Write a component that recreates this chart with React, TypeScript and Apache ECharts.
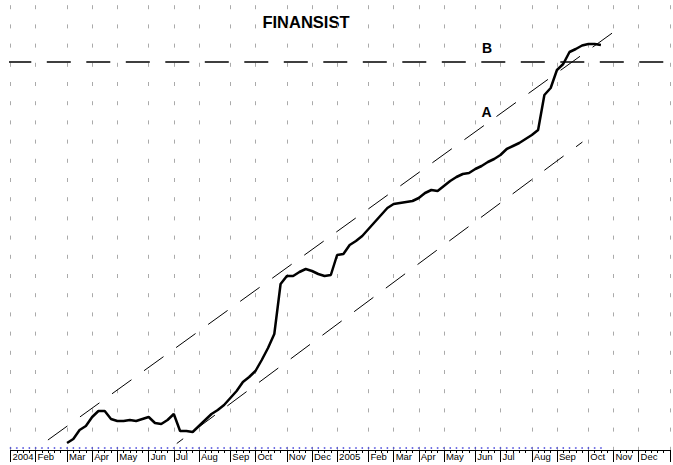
import React, { useEffect, useRef } from "react";
import * as echarts from "echarts";

// ---- data (y values are in chart units, 0 = baseline) ----
const monthStartWeeks = [0, 4, 9, 13, 17, 22, 26, 30, 35, 39, 44, 48, 52, 57, 61, 65, 69, 74, 78, 83, 87, 92, 96, 100, 105];
const monthLabels = ["2004", "Feb", "Mar", "Apr", "May", "Jun", "Jul", "Aug", "Sep", "Oct", "Nov", "Dec", "2005", "Feb", "Mar", "Apr", "May", "Jun", "Jul", "Aug", "Sep", "Oct", "Nov", "Dec", ""];
const totalWeeks = 105;
const firstWeek = 9;
const priceValues = [
  7, 11, 20, 24, 33, 39, 39, 31, 29, 29, 30, 29, 31, 33, 27, 26, 30, 36, 19, 19, 18, 24, 30, 36, 40, 45,
  52, 59, 68, 73, 79, 90, 102, 116, 166, 174, 174, 178, 181, 179, 176, 174, 175, 195, 196, 205, 209, 214,
  221, 228, 235, 242, 246, 247, 248, 249, 252, 257, 260, 259, 264, 269, 273, 276, 277, 281, 284, 288, 291,
  295, 301, 304, 307, 311, 315, 320, 355, 362, 380, 386, 398, 401, 404.5, 406, 406, 405,
];
const markerWeeks = 95; // weeks 0..94 carry a blue marker on the baseline
const upperTrend = [[5.96, 10], [96.1, 418.3]];
const lowerTrend = [[26.47, 6.5], [91.06, 308]];
const levelB = [[-0.51, 388], [107, 388]];
const labelA = { x: 486.5, y: 111.5, text: "A" };
const labelB = { x: 487, y: 48, text: "B" };
const chartTitle = "FINANSIST";

const FONT = "'Liberation Sans', Arial, sans-serif";

export default function App() {
  const ref = useRef<HTMLDivElement>(null);
  useEffect(() => {
    document.body.style.margin = "0";
    const chart = echarts.init(ref.current!, null, { renderer: "svg" });
    const cats = Array.from({ length: totalWeeks + 1 }, (_, i) => String(i));
    const isMonth = (idx: number) => monthStartWeeks.indexOf(idx) >= 0;
    const lineData = priceValues.map((v, k) => [firstWeek + k, v]);
    const dots = Array.from({ length: markerWeeks }, (_, i) => [i, 2]);
    const dashed = (data: number[][], width: number, offset: number) => ({
      type: "line",
      xAxisIndex: 2,
      data,
      clip: false,
      symbol: "none",
      silent: true,
      lineStyle: { color: "#000", width, type: [24, 15.5], dashOffset: offset },
    });
    chart.setOption({
      animation: false,
      textStyle: { fontFamily: FONT },
      grid: { left: 10.5, right: 2, top: 0, bottom: 15 },
      xAxis: [
        {
          type: "category",
          data: cats,
          boundaryGap: false,
          position: "bottom",
          axisLine: { show: true, lineStyle: { color: "#000", width: 1 } },
          axisTick: { show: true, interval: 0, length: 3, lineStyle: { color: "#000" } },
          axisLabel: { show: false },
          splitLine: { show: false },
        },
        {
          type: "category",
          data: cats,
          boundaryGap: false,
          position: "bottom",
          axisLine: { show: false },
          axisTick: { show: true, interval: (i: number) => isMonth(i), length: 12, lineStyle: { color: "#000" } },
          axisLabel: {
            show: true,
            interval: (i: number) => isMonth(i),
            formatter: (_v: string, i: number) => {
              const k = monthStartWeeks.indexOf(i);
              return k >= 0 ? monthLabels[k] : "";
            },
            align: "left",
            verticalAlign: "top",
            margin: 1,
            padding: [0, 0, 0, 2],
            fontSize: 9.5,
            color: "#000",
            fontFamily: FONT,
          },
          splitLine: {
            show: true,
            interval: (i: number) => isMonth(i),
            lineStyle: { color: "#aaa", width: 1, type: [4, 15.2], dashOffset: 14.1 },
          },
        },
        { type: "value", min: 0, max: totalWeeks, show: false, position: "bottom" },
      ],
      yAxis: { type: "value", min: 0, max: 450, show: false },
      series: [
        dashed(upperTrend, 1, 0),
        dashed(lowerTrend, 1, 16),
        dashed(levelB, 1.3, 0),
        {
          type: "scatter",
          xAxisIndex: 2,
          data: dots,
          symbol: "circle",
          symbolSize: 1.8,
          itemStyle: { color: "#3a3ad8" },
          silent: true,
        },
        {
          type: "line",
          xAxisIndex: 2,
          data: lineData,
          symbol: "none",
          lineStyle: { color: "#000", width: 2.5 },
          silent: true,
        },
      ],
      graphic: [
        {
          type: "text",
          x: 306,
          y: 22,
          style: { text: chartTitle, font: `bold 16.5px ${FONT}`, fill: "#000", align: "center", verticalAlign: "middle" },
        },
        {
          type: "text",
          x: labelA.x,
          y: labelA.y,
          style: { text: labelA.text, font: `bold 14px ${FONT}`, fill: "#000", align: "center", verticalAlign: "middle" },
        },
        {
          type: "text",
          x: labelB.x,
          y: labelB.y,
          style: { text: labelB.text, font: `bold 14px ${FONT}`, fill: "#000", align: "center", verticalAlign: "middle" },
        },
      ],
    });
    return () => chart.dispose();
  }, []);
  return <div ref={ref} style={{ width: 673, height: 465 }} />;
}
